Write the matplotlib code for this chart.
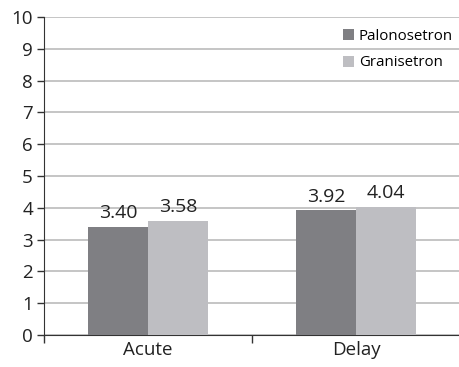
import matplotlib
matplotlib.use("Agg")
import matplotlib.pyplot as plt
import numpy as np

categories = ["Acute", "Delay"]
series_names = ["Palonosetron", "Granisetron"]
palonosetron = [3.40, 3.92]
granisetron = [3.58, 4.04]
yticks = list(range(0, 11))

plt.rcParams['font.family'] = ['Open Sans', 'DejaVu Sans']

fig = plt.figure(figsize=(4.6, 3.67), dpi=100)
ax = fig.add_axes([0.0957, 0.0872, 0.9043, 0.8665])

x = np.arange(len(categories))
w = 0.288
colors = ["#7f7f83", "#bebec2"]
b1 = ax.bar(x - w/2, palonosetron, w, color=colors[0], label=series_names[0], zorder=3)
b2 = ax.bar(x + w/2, granisetron, w, color=colors[1], label=series_names[1], zorder=3)
for bars, vals in ((b1, palonosetron), (b2, granisetron)):
    for r, v in zip(bars, vals):
        ax.text(r.get_x() + r.get_width()/2, v + 0.15, f"{v:.2f}", ha='center', va='bottom',
                fontsize=14, color='#222222')

ax.set_xlim(-0.5, 1.5)
ax.set_ylim(0, 10)
ax.set_yticks(yticks)
ax.set_yticklabels([str(t) for t in yticks], fontsize=13.5, color='#222222')
ax.yaxis.grid(True, color='#bbbbbb', linewidth=1.2, zorder=0)
ax.set_axisbelow(True)
ax.tick_params(axis='y', length=5, width=1, color='#333333', pad=3)

ax.set_xticks([-0.5, 0.5, 1.5])
ax.set_xticklabels([])
ax.set_xticks(x, minor=True)
ax.set_xticklabels(categories, minor=True, fontsize=13.5, color='#222222')
ax.tick_params(axis='x', which='major', length=6, width=1, color='#333333')
ax.tick_params(axis='x', which='minor', length=0, pad=4)

for s in ['top', 'right']:
    ax.spines[s].set_visible(False)
ax.spines['left'].set_color('#333333')
ax.spines['bottom'].set_color('#333333')

ax.legend(loc='upper right', frameon=False, fontsize=10.8, handlelength=0.75, handleheight=0.75,
          handletextpad=0.3, labelspacing=0.75, bbox_to_anchor=(1.005, 0.99), borderaxespad=0.2)

fig.savefig("out.png", dpi=100)
